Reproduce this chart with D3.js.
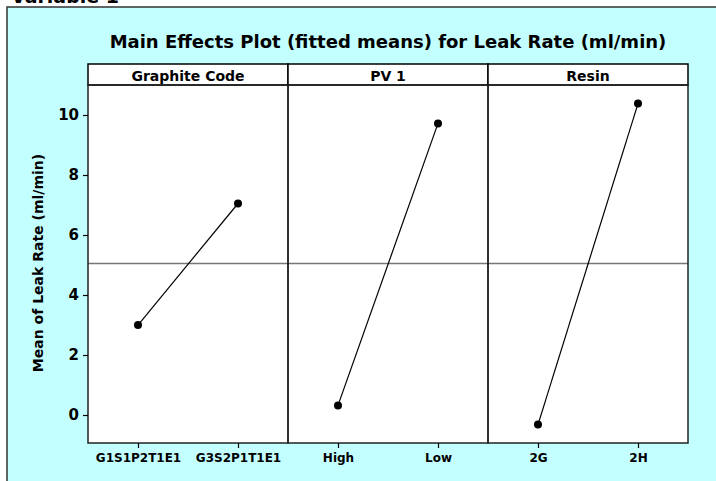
<!DOCTYPE html>
<html>
<head>
<meta charset="utf-8">
<script src="https://cdn.jsdelivr.net/npm/d3@7"></script>
<style>
  html, body { margin: 0; padding: 0; background: #c4ffff; overflow: hidden; }
  svg { display: block; }
  text { font-family: "DejaVu Sans", Verdana, sans-serif; font-weight: bold; fill: #000; }
</style>
</head>
<body>
<svg id="chart" width="716" height="481"></svg>
<script>
// Factors, their levels and fitted means
const factors = ["Graphite Code", "PV 1", "Resin"];
const levels = [
  ["G1S1P2T1E1", "G3S2P1T1E1"],
  ["High", "Low"],
  ["2G", "2H"]
];
const fittedMeans = [
  [3.0, 7.05],
  [0.32, 9.72],
  [-0.32, 10.38]
];
const grandMean = 5.05;
const yTicks = [0, 2, 4, 6, 8, 10];

const svg = d3.select("#chart");
const W = 716, H = 481;

// page background and cyan graph window
svg.append("rect").attr("x", 0).attr("y", 0).attr("width", W).attr("height", H).attr("fill", "#fff");
svg.append("rect").attr("x", 7).attr("y", 7).attr("width", W + 20).attr("height", H + 20)
  .attr("fill", "#c4ffff").attr("stroke", "#333").attr("stroke-width", 1.5);

svg.append("text").attr("x", 11).attr("y", 3)
  .style("font-size", "19px").text("Variable 1");

// title
svg.append("text").attr("x", 388).attr("y", 48).attr("text-anchor", "middle")
  .style("font-size", "18px").text("Main Effects Plot (fitted means) for Leak Rate (ml/min)");

const left = 88, right = 688, stripTop = 64, plotTop = 85, plotBottom = 443;
const panelW = (right - left) / factors.length;

const y = d3.scaleLinear().domain([-0.933, 11]).range([plotBottom, plotTop]);

// white plot area
svg.append("rect").attr("x", left).attr("y", stripTop).attr("width", right - left)
  .attr("height", plotBottom - stripTop).attr("fill", "#fff");

// grand mean reference line
svg.append("line").attr("x1", left).attr("x2", right)
  .attr("y1", y(grandMean)).attr("y2", y(grandMean))
  .attr("stroke", "#777").attr("stroke-width", 1.5);

factors.forEach((f, i) => {
  const x0 = left + i * panelW;
  const x = d3.scalePoint().domain(levels[i]).range([x0, x0 + panelW]).padding(0.5);
  const g = svg.append("g");

  // strip
  g.append("rect").attr("x", x0).attr("y", stripTop).attr("width", panelW)
    .attr("height", plotTop - stripTop).attr("fill", "#fff")
    .attr("stroke", "#000").attr("stroke-width", 1.5);
  g.append("text").attr("x", x0 + panelW / 2).attr("y", stripTop + 17)
    .attr("text-anchor", "middle").style("font-size", "14px").text(f);

  // panel frame
  g.append("rect").attr("x", x0).attr("y", plotTop).attr("width", panelW)
    .attr("height", plotBottom - plotTop).attr("fill", "none")
    .attr("stroke", "#222").attr("stroke-width", 1.5);

  // x axis
  const xa = svg.append("g").attr("transform", `translate(0,${plotBottom})`)
    .call(d3.axisBottom(x).tickSize(5).tickPadding(5));
  xa.select(".domain").remove();
  xa.selectAll("line").attr("stroke", "#000").attr("stroke-width", 1.2);
  xa.selectAll("text").style("font-size", "12px").style("font-family", "DejaVu Sans, sans-serif")
    .style("font-weight", "bold").attr("fill", "#000");

  const pts = levels[i].map((l, j) => [x(l), y(fittedMeans[i][j])]);
  g.append("path").attr("d", d3.line()(pts)).attr("fill", "none")
    .attr("stroke", "#000").attr("stroke-width", 1.2);
  g.selectAll("circle").data(pts).join("circle")
    .attr("cx", d => d[0]).attr("cy", d => d[1]).attr("r", 4).attr("fill", "#000");
});

// y axis
const ya = svg.append("g").attr("transform", `translate(${left},0)`)
  .call(d3.axisLeft(y).tickValues(yTicks).tickSize(5).tickPadding(4));
ya.select(".domain").remove();
ya.selectAll("line").attr("stroke", "#000").attr("stroke-width", 1.2);
ya.selectAll("text").style("font-size", "15px").style("font-family", "DejaVu Sans, sans-serif")
  .style("font-weight", "bold").attr("fill", "#000");

svg.append("text").attr("transform", `translate(43,${(plotTop + plotBottom) / 2 - 1}) rotate(-90)`)
  .attr("text-anchor", "middle").style("font-size", "14px").text("Mean of Leak Rate (ml/min)");
</script>
</body>
</html>
